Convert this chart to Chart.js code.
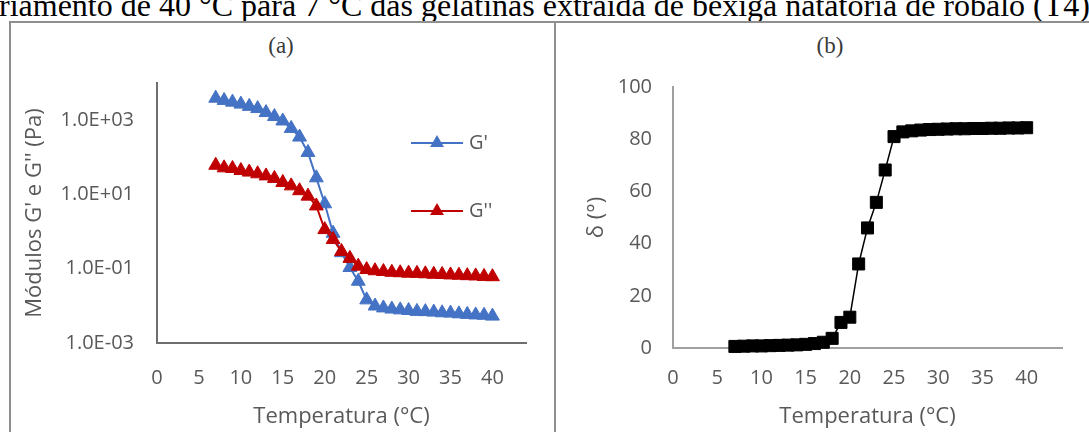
<!DOCTYPE html>
<html>
<head>
<meta charset="utf-8">
<script src="https://cdn.jsdelivr.net/npm/chart.js@4.4.1/dist/chart.umd.min.js"></script>
<style>
  html, body { margin: 0; padding: 0; background: #fff; }
  body { width: 1089px; height: 432px; position: relative; overflow: hidden; }
  .caption { position: absolute; left: -1px; top: -11px; font: 32px "Liberation Serif", "Times New Roman", serif;
             line-height: 32px; white-space: nowrap; color: #000; }
  .panel { position: absolute; top: 21px; height: 440px; border: 2px solid #8f8f8f; box-sizing: border-box; }
  .tag { position: absolute; top: 33px; font: 23px "Liberation Serif", "Times New Roman", serif;
         color: #3a3a3a; transform: translateX(-50%); }
  canvas { position: absolute; top: 0; }
</style>
</head>
<body>
<div class="caption">riamento de 40 °C para 7 °C das gelatinas extraída de bexiga natatória de robalo (T4)</div>
<div class="panel" style="left:9px; width:547px;"></div>
<div class="panel" style="left:554px; width:560px;"></div>
<div class="tag" style="left:281px;">(a)</div>
<div class="tag" style="left:830px;">(b)</div>
<canvas id="modChart" width="556" height="432" style="left:0;"></canvas>
<canvas id="phaseChart" width="533" height="432" style="left:556px;"></canvas>

<script>
// temperature sweep, °C
const temps = [7, 8, 9, 10, 11, 12, 13, 14, 15, 16, 17, 18, 19, 20, 21, 22, 23,
               24, 25, 26, 27, 28, 29, 30, 31, 32, 33, 34, 35, 36, 37, 38, 39, 40];

// storage modulus G' (Pa)
const gPrime = [3900, 3400, 3050, 2700, 2350, 2050, 1600, 1250, 950, 600, 350, 135,
                28, 5.6, 0.9, 0.27, 0.108, 0.046, 0.0145, 0.0099, 0.0088, 0.0082,
                0.0078, 0.0075, 0.0071, 0.0070, 0.0068, 0.0065, 0.0064, 0.0061,
                0.0059, 0.0057, 0.0056, 0.0053];

// loss modulus G'' (Pa)
const gDouble = [61, 52, 50, 44, 40, 36, 31.5, 27, 21, 17, 12.6, 9, 4.9, 1.13,
                 0.61, 0.29, 0.19, 0.117, 0.095, 0.088, 0.084, 0.080, 0.078, 0.076,
                 0.075, 0.073, 0.071, 0.070, 0.068, 0.067, 0.065, 0.064, 0.062, 0.061];

// phase angle δ (°)
const delta = [0.6, 0.7, 0.8, 0.8, 0.9, 1.0, 1.1, 1.2, 1.4, 1.7, 2.2, 3.7, 9.8, 11.8,
               32.2, 46.0, 55.8, 68.2, 81.0, 82.8, 83.2, 83.5, 83.7, 83.8, 83.9, 84.0,
               84.0, 84.1, 84.1, 84.2, 84.2, 84.3, 84.3, 84.4];

const modTicks = [1e-3, 1e-1, 1e1, 1e3];

const TXT = '#595959';
const SANS = '"Open Sans", "Noto Sans", sans-serif';

function sciLabel(v) {
  const e = Math.round(Math.log10(v));
  return '1.0E' + (e < 0 ? '-' : '+') + String(Math.abs(e)).padStart(2, '0');
}

function pts(ys) {
  return temps.map((t, i) => ({ x: t, y: ys[i] }));
}

// line + marker key drawn inside the plot, Excel style
const seriesKey = {
  id: 'seriesKey',
  afterDatasetsDraw(chart, args, opts) {
    if (!opts.rows) return;
    const ctx = chart.ctx;
    chart.data.datasets.forEach((ds, i) => {
      const y = opts.rows[i];
      const cx = opts.x + opts.len / 2;
      const r = ds.pointRadius;
      ctx.save();
      ctx.strokeStyle = ds.borderColor;
      ctx.lineWidth = 2;
      ctx.beginPath();
      ctx.moveTo(opts.x, y);
      ctx.lineTo(opts.x + opts.len, y);
      ctx.stroke();
      ctx.fillStyle = ds.backgroundColor;
      ctx.beginPath();
      ctx.moveTo(cx, y - r);
      ctx.lineTo(cx + r * 0.866, y + r / 2);
      ctx.lineTo(cx - r * 0.866, y + r / 2);
      ctx.closePath();
      ctx.fill();
      ctx.fillStyle = TXT;
      ctx.font = '20px ' + SANS;
      ctx.textBaseline = 'middle';
      ctx.fillText(ds.label, opts.x + opts.len + 6, y);
      ctx.restore();
    });
  }
};

const baseOpts = {
  responsive: false,
  animation: false,
  events: [],
};

// (a) G' and G''
new Chart(document.getElementById('modChart'), {
  type: 'line',
  data: {
    datasets: [
      { label: "G'", data: pts(gPrime), borderColor: '#4472C4', backgroundColor: '#4472C4',
        pointStyle: 'triangle', pointRadius: 8, pointBorderWidth: 1, borderWidth: 2, order: 1, clip: false },
      { label: "G''", data: pts(gDouble), borderColor: '#C00000', backgroundColor: '#C00000',
        pointStyle: 'triangle', pointRadius: 8, pointBorderWidth: 1, borderWidth: 2, order: 0, clip: false }
    ]
  },
  options: Object.assign({}, baseOpts, {
    layout: { padding: { top: 83, right: 30, bottom: 0, left: 0 } },
    plugins: {
      legend: { display: false },
      tooltip: { enabled: false },
      seriesKey: { x: 411, len: 52, rows: [143, 211] }
    },
    scales: {
      x: {
        type: 'linear', min: 0, max: 44,
        grid: { display: false, drawTicks: false },
        border: { color: '#6e6e6e', width: 2 },
        ticks: { stepSize: 5, includeBounds: false, padding: 23, color: TXT, font: { family: SANS, size: 20 } },
        title: { display: true, text: 'Temperatura (°C)', color: TXT, font: { family: SANS, size: 22 },
                 padding: { top: 0, bottom: 2 } },
        afterFit: s => { s.height = 89; }
      },
      y: {
        type: 'logarithmic', min: 1e-3, max: 1e4,
        grid: { display: false, drawTicks: false },
        border: { color: '#6e6e6e', width: 2 },
        afterBuildTicks: s => { s.ticks = modTicks.map(v => ({ value: v })); },
        ticks: { padding: 23, color: TXT, font: { family: SANS, size: 20 }, callback: v => sciLabel(v) },
        title: { display: true, text: "Módulos G' e G'' (Pa)", color: TXT, font: { family: SANS, size: 22 },
                 padding: { top: 22, bottom: 0 } },
        afterFit: s => { s.width = 157; }
      }
    }
  }),
  plugins: [seriesKey]
});

// (b) phase angle
new Chart(document.getElementById('phaseChart'), {
  type: 'line',
  data: {
    datasets: [
      { label: 'δ', data: pts(delta), borderColor: '#000', backgroundColor: '#000',
        pointStyle: 'rect', pointRadius: 8.5, pointBorderWidth: 1, borderWidth: 1.5, clip: false }
    ]
  },
  options: Object.assign({}, baseOpts, {
    layout: { padding: { top: 87, right: 27, bottom: 0, left: 0 } },
    plugins: { legend: { display: false }, tooltip: { enabled: false } },
    scales: {
      x: {
        type: 'linear', min: 0, max: 44,
        grid: { display: false, drawTicks: false },
        border: { color: '#a0a0a0', width: 2 },
        ticks: { stepSize: 5, includeBounds: false, padding: 18, color: TXT, font: { family: SANS, size: 20 } },
        title: { display: true, text: 'Temperatura (°C)', color: TXT, font: { family: SANS, size: 22 },
                 padding: { top: 0, bottom: 2 } },
        afterFit: s => { s.height = 84; }
      },
      y: {
        type: 'linear', min: 0, max: 100,
        grid: { display: false, drawTicks: false },
        border: { color: '#a0a0a0', width: 2 },
        ticks: { stepSize: 20, padding: 21, color: TXT, font: { family: SANS, size: 20 } },
        title: { display: true, text: 'δ (°)', color: TXT, font: { family: SANS, size: 22 },
                 padding: { top: 28, bottom: 0 } },
        afterFit: s => { s.width = 117; }
      }
    }
  })
});
</script>
</body>
</html>
